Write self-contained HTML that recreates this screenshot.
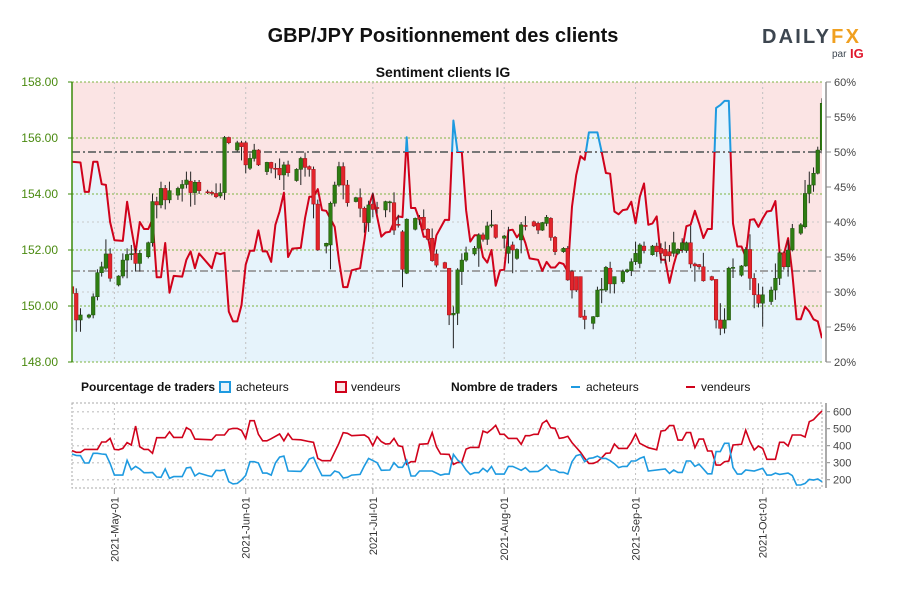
<!DOCTYPE html>
<html><head><meta charset="utf-8"><style>
html,body{margin:0;padding:0;background:#fff;}
body{width:900px;height:600px;overflow:hidden;font-family:"Liberation Sans",sans-serif;}
</style></head><body>
<svg id="chart" width="900" height="600" xmlns="http://www.w3.org/2000/svg" font-family="Liberation Sans, sans-serif">
<text x="443" y="42" text-anchor="middle" font-size="20" font-weight="bold" fill="#111">GBP/JPY Positionnement des clients</text>
<text x="443" y="77" text-anchor="middle" font-size="14" font-weight="bold" fill="#111">Sentiment clients IG</text>
<g>
<text x="762" y="43" font-size="20" font-weight="bold" letter-spacing="2.2" fill="#3d4650">DAILY<tspan fill="#f0a020">FX</tspan></text>
<text x="832" y="57" font-size="10" fill="#3d4650">par</text>
<text x="850" y="58" font-size="13" font-weight="bold" fill="#e0182d">IG</text>
</g>
<defs>
<clipPath id="plotClip"><rect x="72" y="82" width="750" height="280"/></clipPath>
<clipPath id="belowHalf"><rect x="72" y="152" width="750" height="210"/></clipPath>
<clipPath id="aboveHalf"><rect x="72" y="82" width="750" height="70"/></clipPath>
</defs>
<g id="main"></g>
<g id="legend" font-size="12" fill="#111">
<text x="81" y="391" font-weight="bold">Pourcentage de traders</text>
<rect x="220" y="382" width="10" height="10" fill="#e6f3fb" stroke="#1e9ae0" stroke-width="2"/>
<text x="236" y="391">acheteurs</text>
<rect x="336" y="382" width="10" height="10" fill="#fbe4e4" stroke="#d0021b" stroke-width="2"/>
<text x="351" y="391">vendeurs</text>
<text x="451" y="391" font-weight="bold">Nombre de traders</text>
<line x1="571" y1="387" x2="580" y2="387" stroke="#1e9ae0" stroke-width="2"/>
<text x="586" y="391">acheteurs</text>
<line x1="686" y1="387" x2="695" y2="387" stroke="#d0021b" stroke-width="2"/>
<text x="701" y="391">vendeurs</text>
</g>
<g id="lower"></g>
</svg>
<script>
const priceTicks = [148, 150, 152, 154, 156, 158];
const pctTicks = [20, 25, 30, 35, 40, 45, 50, 55, 60];
const countTicks = [200, 300, 400, 500, 600];
const monthLabels = ["2021-May-01","2021-Jun-01","2021-Jul-01","2021-Aug-01","2021-Sep-01","2021-Oct-01"];
const monthDays = [10, 41, 71, 102, 133, 163];
const sentDays = [0,2,3,4,5,6,7,8,9,10,12,13,14,15,16,17,18,19,20,21,22,23,24,26,27,28,29,30,33,34,35,36,37,38,39,40,41,42,43,44,45,46,47,48,49,50,51,52,54,55,56,57,58,59,60,62,63,64,65,66,68,69,70,71,72,73,74,75,76,77,78,79,80,81,82,83,84,85,86,88,89,90,91,92,93,94,95,96,97,98,99,100,101,102,103,104,105,106,107,108,109,110,111,112,113,114,115,116,117,118,119,120,121,122,124,125,126,127,128,129,130,131,132,133,134,135,136,137,138,139,140,141,142,143,144,145,146,147,148,149,150,151,152,153,154,155,156,157,158,159,160,161,162,163,164,165,166,167,168,169,170,171,172,173,174,175,176,177];
const sentValues = [48.6,48.5,44.3,44.3,48.6,48.6,45.4,45.3,40.0,37.4,37.3,42.9,39.1,35.6,40,39,39,40.4,32.1,32.1,37.0,29.9,32.3,32.2,34.6,35.8,33.4,35.5,33.4,35.6,35.4,35.6,27.2,25.8,25.8,28.1,33.9,35.9,35.9,38.8,35.8,35.8,34.3,39.6,41.5,44.2,35,36.2,36.3,40.6,43.6,43.6,44.7,41.7,41.6,39.3,34.6,30.7,30.7,33.1,33.4,37.4,42.2,44,40.8,37.9,38.5,38.6,40.0,40.8,40.7,52.1,42,42,40.3,37.9,37.9,34.6,38.1,40.3,40.3,54.5,50,50,41.7,37.2,38.1,38.1,35,34.2,36,30.9,33.1,33.2,38.8,38.9,37.8,38.6,37,34.8,34.7,34.6,33,34.3,33.5,33.5,34.2,34.0,32.9,42.2,46.7,49.4,48.9,52.8,52.8,50,47,46.9,41.5,41.1,41.7,41.8,42.9,39.8,43.6,45.5,39.6,39.8,40.8,34.6,34.6,31.3,33.9,36,36,39.4,39.6,41.6,39.8,37.7,39,39,56.3,56.7,57.3,57.3,39.8,36.5,36.5,35,40.3,40.4,39.3,40.5,41.5,41.6,43,35.6,35.4,37.7,32.7,26.1,26.1,27.9,27.2,26.1,25.8,23.4];
const candleDay = [0,1,2,4,5,6,7,8,9,11,12,13,14,15,16,18,19,20,21,22,23,25,26,27,28,29,30,32,33,34,35,36,37,39,40,41,42,43,44,46,47,48,49,50,51,53,54,55,56,57,58,60,61,62,63,64,65,67,68,69,70,71,72,74,75,76,77,78,79,81,82,83,84,85,86,88,89,90,91,92,93,95,96,97,98,99,100,102,103,104,105,106,107,109,110,111,112,113,114,116,117,118,119,120,121,123,124,125,126,127,128,130,131,132,133,134,135,137,138,139,140,141,142,143,144,145,146,147,148,149,151,152,153,154,155,156,158,159,160,161,162,163,165,166,167,168,169,170,172,173,174,175,176,177];
const candleOpen = [150.69,150.45,149.50,149.60,149.68,150.33,151.19,151.35,151.86,150.75,151.07,151.64,151.84,151.88,151.52,151.76,152.26,153.73,153.61,154.20,153.79,153.96,154.20,154.34,154.46,154.05,154.42,154.08,154.06,154.02,153.93,154.05,156.02,155.57,155.83,155.83,154.92,155.27,155.57,154.80,155.13,154.92,154.92,154.68,155.04,154.48,154.88,155.27,154.98,154.88,153.64,152.14,152.18,153.67,154.32,154.98,154.32,153.73,153.87,153.49,152.98,153.64,153.52,153.43,153.69,153.69,152.92,152.65,151.17,152.74,153.17,153.17,152.74,152.42,151.86,151.55,151.35,149.68,149.74,151.23,151.64,151.86,152.06,152.54,152.38,152.86,152.90,152.42,151.88,152.18,151.70,152.36,152.88,153.01,152.95,152.71,152.95,153.13,152.45,151.94,152.06,151.23,151.05,151.05,149.64,149.38,149.62,150.57,150.57,151.35,150.79,150.87,151.23,151.26,151.58,151.52,152.14,151.83,152.14,152.06,152.02,151.94,151.88,151.88,152.00,151.98,152.26,151.50,151.48,151.40,151.05,150.95,149.50,149.20,149.50,151.35,151.10,151.43,152.02,150.99,150.40,150.10,150.16,150.57,150.99,151.90,151.40,152.00,152.60,152.83,154.02,154.32,154.74,155.57];
const candleClose = [150.45,149.50,149.68,149.68,150.33,151.19,151.40,151.86,150.99,151.07,151.64,151.84,151.87,151.52,151.88,152.26,153.73,153.61,154.20,153.79,154.12,154.20,154.34,154.50,154.05,154.42,154.12,154.05,154.02,153.90,154.05,156.02,155.83,155.83,155.69,155.04,155.27,155.57,155.04,155.13,154.92,154.90,154.68,155.04,154.76,154.88,155.27,154.95,154.88,153.64,152.00,152.24,153.67,154.32,154.98,154.32,153.69,153.87,153.49,152.98,153.61,153.45,153.48,153.73,153.72,152.71,152.88,151.31,153.10,153.13,153.10,152.74,152.38,151.62,151.46,151.35,149.68,149.74,151.29,151.64,151.90,152.06,152.54,152.38,152.86,152.90,152.45,152.50,152.12,152.00,152.02,152.90,152.84,152.86,152.71,152.98,153.17,152.45,151.94,152.06,150.93,150.57,150.57,149.60,149.52,149.62,150.57,150.60,151.38,150.79,151.05,151.23,151.29,151.58,151.88,152.18,151.98,152.14,151.94,151.88,151.79,151.79,152.26,152.02,152.26,152.26,151.50,151.43,151.40,150.90,150.93,149.50,149.20,149.50,151.35,151.38,151.43,152.02,150.99,150.40,150.10,150.40,150.57,150.99,151.90,151.40,152.00,152.77,152.90,154.02,154.32,154.74,155.57,157.24];
const candleHigh = [150.93,150.63,149.92,149.72,150.45,151.31,151.58,152.38,152.06,151.10,151.88,152.06,152.18,152.06,152.00,152.30,154.02,153.90,154.44,154.32,154.44,154.26,154.50,154.80,154.80,154.50,154.50,154.15,154.12,154.38,154.38,156.07,156.05,155.90,155.90,155.90,155.45,155.79,155.60,155.15,155.15,155.10,155.27,155.15,155.19,154.92,155.33,155.48,155.02,154.98,153.80,152.26,153.73,154.44,155.15,155.13,154.50,153.90,154.20,153.55,153.76,154.05,153.72,153.76,153.76,154.06,153.26,152.71,153.13,153.16,153.25,153.45,152.78,152.77,152.02,151.58,151.35,149.98,151.35,151.88,152.12,152.14,152.60,152.62,153.01,153.43,152.92,152.54,152.83,152.30,152.06,153.00,153.21,153.05,153.01,153.00,153.25,153.17,152.50,152.10,152.14,151.29,151.05,151.05,149.86,149.64,150.69,151.00,151.43,151.58,151.05,151.30,151.33,151.70,152.30,152.24,152.30,152.18,152.26,152.24,152.30,152.18,152.65,152.06,152.42,152.30,152.86,151.55,151.50,151.90,151.08,150.95,150.10,149.92,151.40,151.70,151.46,152.10,152.56,151.17,150.81,150.69,150.69,151.52,151.95,151.95,152.36,152.93,152.96,154.50,154.80,154.95,155.69,157.42];
const candleLow = [150.04,149.08,149.08,149.55,149.56,150.20,151.05,151.29,150.87,150.70,150.99,150.99,151.64,151.23,151.23,151.70,152.12,153.13,153.49,153.45,153.67,153.79,153.73,154.20,153.55,153.61,154.00,154.00,153.95,153.85,153.85,153.79,155.78,155.51,155.20,154.74,154.86,155.16,155.00,154.68,154.74,154.56,154.50,154.14,154.62,154.44,154.32,154.62,154.62,153.13,151.97,151.88,151.31,153.55,154.26,153.81,153.55,153.70,153.17,152.62,152.65,153.17,153.30,153.17,153.35,152.54,152.80,150.67,151.14,152.70,152.90,152.70,152.34,151.58,151.38,151.33,149.32,148.49,149.32,150.75,151.58,151.80,151.40,152.30,152.18,152.80,152.40,152.06,151.52,151.17,151.65,151.88,152.70,152.82,152.57,152.68,152.85,152.33,151.82,151.90,150.90,150.27,150.50,149.58,149.17,149.17,149.60,150.10,150.50,150.45,150.45,150.80,151.18,151.07,151.47,151.35,151.88,151.80,151.76,151.52,151.52,151.58,151.76,151.83,151.90,151.90,151.35,150.87,151.30,150.87,150.90,149.20,148.96,149.02,149.50,151.00,151.05,151.40,150.57,149.92,149.95,149.26,150.04,150.22,150.75,151.30,151.05,151.95,152.54,152.77,153.67,154.08,154.70,155.45];
const buyerDays = [0,1,2,3,4,5,6,7,8,9,10,11,12,13,14,15,16,17,18,19,20,21,22,23,24,26,27,28,29,30,32,33,34,35,36,37,38,39,40,41,42,43,44,45,46,47,48,49,50,51,54,55,56,57,58,59,61,62,63,64,65,66,68,69,70,72,73,75,76,77,78,79,80,81,82,85,87,88,89,90,91,92,93,94,95,96,97,98,99,100,101,102,103,104,105,106,107,108,110,111,112,113,114,115,116,117,118,119,120,121,122,123,124,125,126,127,128,129,130,131,132,133,134,135,136,140,141,142,143,144,145,146,147,148,150,151,152,153,154,155,156,157,158,159,161,163,164,165,166,167,169,170,171,172,173,174,175,176,177];
const buyerValues = [351,343,341,298,298,355,355,351,349,296,227,227,227,314,259,278,263,241,241,243,216,214,263,208,218,218,269,273,222,239,224,218,255,253,259,188,175,178,198,225,306,306,298,239,239,227,298,333,339,251,249,281,322,331,273,224,224,251,243,210,214,227,231,282,325,300,255,257,300,273,273,314,222,222,251,251,227,233,233,349,316,296,257,231,241,241,267,247,278,233,233,233,278,278,267,255,271,247,249,263,286,257,257,243,243,233,306,341,349,306,325,329,339,325,325,312,294,271,278,278,310,310,325,335,251,263,237,257,243,243,310,310,278,292,235,235,365,365,414,414,271,233,233,257,251,267,227,227,239,231,239,224,169,169,178,202,198,204,188];
const sellerDays = [0,1,2,3,6,7,8,9,10,11,12,13,14,15,16,17,18,19,20,22,23,24,26,27,28,29,33,34,36,37,38,39,40,41,42,43,44,45,46,47,49,50,51,52,54,56,57,58,59,61,63,64,65,66,69,70,71,72,73,74,75,76,77,78,79,80,81,82,84,85,86,87,89,90,91,92,93,94,96,97,98,99,100,101,102,103,105,106,107,108,109,110,111,112,113,114,115,116,117,118,119,120,121,122,123,124,125,126,127,128,129,131,132,133,134,136,138,139,140,141,142,143,144,145,146,147,148,149,150,151,152,153,154,155,156,158,159,160,161,162,163,164,166,167,168,169,170,172,173,174,175,176,177];
const sellerValues = [371,361,361,378,378,422,422,443,378,376,384,418,404,516,394,378,378,355,447,447,482,449,449,506,492,439,435,463,463,496,502,502,490,443,547,547,467,429,429,441,469,429,471,437,435,424,420,326,312,312,414,477,473,459,463,447,400,453,424,410,412,443,400,394,290,306,306,408,412,477,394,351,349,290,302,302,380,390,390,486,476,496,520,467,467,443,443,408,459,459,467,467,531,549,506,502,443,447,455,418,390,361,326,296,296,306,329,355,357,410,384,384,420,469,414,388,376,486,490,518,518,433,433,477,477,388,439,439,369,369,286,286,306,310,404,408,492,424,375,398,384,320,320,420,420,398,463,463,451,541,553,580,604];

const NS = "http://www.w3.org/2000/svg";
const X0 = 72, X1 = 822, NDAYS = 177;
function xDay(d){ return X0 + d*(X1-X0)/NDAYS; }
function yPrice(p){ return 362 - (p-148)*28; }
function yPct(v){ return 362 - (v-20)*7; }
function yCount(v){ return 479.7 - (v-200)*0.17; }
function el(tag, attrs, parent){
  const e = document.createElementNS(NS, tag);
  for (const k in attrs) e.setAttribute(k, attrs[k]);
  parent.appendChild(e);
  return e;
}
const main = document.getElementById('main');
const lower = document.getElementById('lower');

const bgPink = el('rect', {x:X0, y:82, width:X1-X0, height:280, fill:'#fbe4e4'}, main);


let pts = sentDays.map((d,i)=>xDay(d).toFixed(1)+','+yPct(sentValues[i]).toFixed(1));
const blueArea = el('polygon', {points: X0+',362 '+pts.join(' ')+' '+X1+',362', fill:'#e6f3fb'}, main);



[30,40].forEach(v=>{
  const g = el('line', {x1:X0, x2:X1, y1:yPct(v), y2:yPct(v), stroke:'#c8c8c8', 'stroke-dasharray':'2,3', 'stroke-width':1}, main);
  
  
});
priceTicks.forEach(p=>{
  const g = el('line', {x1:X0, x2:X1, y1:yPrice(p), y2:yPrice(p), stroke:'#7cb342', 'stroke-dasharray':'2,2', 'stroke-width':1}, main);
  
  
});
monthDays.forEach(d=>{
  const g = el('line', {x1:xDay(d), x2:xDay(d), y1:82, y2:362, stroke:'#c0c0c0', 'stroke-dasharray':'2,3', 'stroke-width':1}, main);
  
  
});
const ref50 = el('line', {x1:X0, x2:X1, y1:yPct(50), y2:yPct(50), stroke:'#777', 'stroke-width':2, 'stroke-dasharray':'8,3,2,3'}, main);


const ref33 = el('line', {x1:X0, x2:X1, y1:yPrice(151.25), y2:yPrice(151.25), stroke:'#888', 'stroke-width':1.5, 'stroke-dasharray':'8,3,2,3'}, main);



const lineRed = el('polyline', {points:pts.join(' '), fill:'none', stroke:'#d0021b', 'stroke-width':2, 'clip-path':'url(#belowHalf)', 'stroke-linejoin':'round'}, main);


const lineBlue = el('polyline', {points:pts.join(' '), fill:'none', stroke:'#1e9ae0', 'stroke-width':2, 'clip-path':'url(#aboveHalf)', 'stroke-linejoin':'round'}, main);



const cg = el('g', {'clip-path':'url(#plotClip)'}, main);


candleDay.forEach((d,i)=>{
  const x = xDay(d);
  const o = candleOpen[i], c = candleClose[i];
  const up = c >= o;
  const w = el('line', {x1:x, x2:x, y1:yPrice(candleHigh[i]), y2:yPrice(candleLow[i]), stroke:'#222', 'stroke-width':1}, cg);
  
  
  const top = yPrice(Math.max(o,c)), bot = yPrice(Math.min(o,c));
  const b = el('rect', {x:x-1.8, y:top, width:3.6, height:Math.max(1, bot-top), fill: up ? '#2e7d12' : '#e3242b', stroke: up ? '#1e4d0a' : '#a01018', 'stroke-width':0.5}, cg);
  
  
});

const la = el('line', {x1:X0, x2:X0, y1:82, y2:362, stroke:'#3a8a0a', 'stroke-width':1.5}, main);


priceTicks.forEach(p=>{
  const t = el('line', {x1:X0-4, x2:X0, y1:yPrice(p), y2:yPrice(p), stroke:'#3a8a0a'}, main);
  
  
  const lb = el('text', {x:X0-14, y:yPrice(p)+4, 'text-anchor':'end', 'font-size':12, fill:'#4a8a10'}, main);
  lb.textContent = p.toFixed(2);
  
  
});
const ra = el('line', {x1:826, x2:826, y1:82, y2:362, stroke:'#aaa', 'stroke-width':2}, main);


pctTicks.forEach(v=>{
  const t = el('line', {x1:826, x2:831, y1:yPct(v), y2:yPct(v), stroke:'#888'}, main);
  
  
  const lb = el('text', {x:834, y:yPct(v)+4, 'font-size':11, fill:'#444'}, main);
  lb.textContent = v + '%';
  
  
});

const box = el('rect', {x:X0, y:403, width:X1-X0, height:85, fill:'none', stroke:'#aaa', 'stroke-dasharray':'2,2'}, lower);


countTicks.forEach(v=>{
  const g = el('line', {x1:X0, x2:X1, y1:yCount(v), y2:yCount(v), stroke:'#d0d0d0', 'stroke-dasharray':'2,3', 'stroke-width':1.5}, lower);
  
  
  const t = el('line', {x1:826, x2:830, y1:yCount(v), y2:yCount(v), stroke:'#888'}, lower);
  
  
  const lb = el('text', {x:833, y:yCount(v)+4, 'font-size':11, fill:'#444'}, lower);
  lb.textContent = v;
  
  
});
const ca = el('line', {x1:826, x2:826, y1:403, y2:488, stroke:'#aaa', 'stroke-width':2}, lower);


monthDays.forEach((d,i)=>{
  const x = xDay(d);
  const g = el('line', {x1:x, x2:x, y1:403, y2:488, stroke:'#c0c0c0', 'stroke-dasharray':'2,3'}, lower);
  
  
  const t = el('line', {x1:x, x2:x, y1:488, y2:494, stroke:'#999'}, lower);
  
  
  const lb = el('text', {x:0, y:0, 'font-size':11, fill:'#333', 'text-anchor':'end', transform:'translate('+(x+4)+',497) rotate(-90)'}, lower);
  lb.textContent = monthLabels[i];
  
  
});
const sPts = sellerDays.map((d,i)=>xDay(d).toFixed(1)+','+yCount(sellerValues[i]).toFixed(1)).join(' ');
const sl = el('polyline', {points:sPts, fill:'none', stroke:'#d0021b', 'stroke-width':1.6}, lower);


const bPts = buyerDays.map((d,i)=>xDay(d).toFixed(1)+','+yCount(buyerValues[i]).toFixed(1)).join(' ');
const bl = el('polyline', {points:bPts, fill:'none', stroke:'#1e9ae0', 'stroke-width':1.6}, lower);


</script>
</body></html>
